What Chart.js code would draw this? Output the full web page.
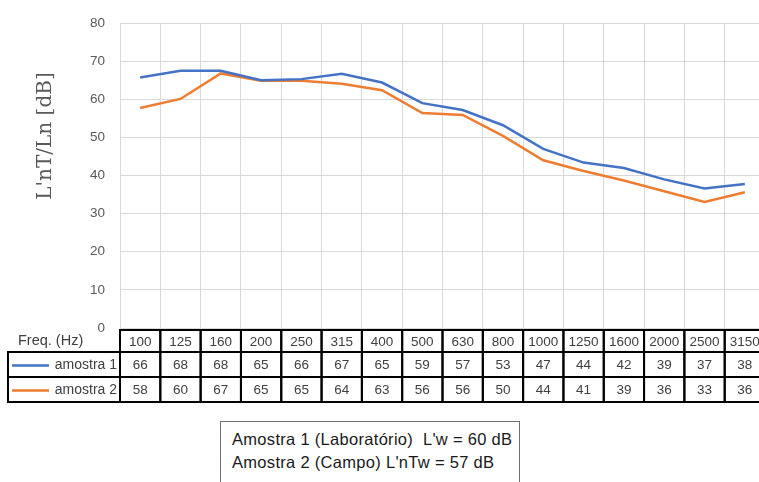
<!DOCTYPE html>
<html>
<head>
<meta charset="utf-8">
<script src="https://cdn.jsdelivr.net/npm/chart.js@4.4.1/dist/chart.umd.min.js"></script>
<style>
  html, body { margin: 0; padding: 0; background: #fff; overflow: hidden; }
  #wrap { position: relative; width: 759px; height: 482px; overflow: hidden; }
  #box { position: absolute; width: 768px; height: 482px; left: 0; top: 0; }
  #note { position: absolute; left: 220px; top: 421px; width: 300px; height: 70px;
          border: 1px solid #6e6e6e; box-sizing: border-box; padding: 6px 0 0 11px;
          font-family: "Liberation Sans", Arial, sans-serif; font-size: 16.5px; letter-spacing: 0.3px; line-height: 23px; color: #1a1a1a; background: #fff; white-space: nowrap; }
</style>
</head>
<body>
<div id="wrap">
  <div id="box"><canvas id="c" width="768" height="482"></canvas></div>
  <div id="note">Amostra 1 (Laboratório)&nbsp; L'w = 60 dB<br>Amostra 2 (Campo) L'nTw = 57 dB</div>
</div>
<script>
const categories = ["100","125","160","200","250","315","400","500","630","800","1000","1250","1600","2000","2500","3150"];
const amostra1 = [65.7, 67.5, 67.5, 65.0, 65.3, 66.7, 64.4, 59.0, 57.2, 53.2, 47.0, 43.4, 42.0, 39.0, 36.6, 37.8];
const amostra2 = [57.7, 60.1, 66.8, 64.9, 64.9, 64.1, 62.4, 56.4, 55.9, 50.4, 44.0, 41.2, 38.7, 35.9, 33.1, 35.6];
const tableRow1 = [66, 68, 68, 65, 66, 67, 65, 59, 57, 53, 47, 44, 42, 39, 37, 38];
const tableRow2 = [58, 60, 67, 65, 65, 64, 63, 56, 56, 50, 44, 41, 39, 36, 33, 36];
const seriesNames = ["amostra 1", "amostra 2"];
const yTicks = [0, 10, 20, 30, 40, 50, 60, 70, 80];
const yTitle = "L'nT/Ln [dB]";
const tableHeader = "Freq. (Hz)";

const BLUE = "#4472C4", ORANGE = "#ED7D31";

const dataTable = {
  id: "dataTable",
  afterDraw(chart) {
    const ctx = chart.ctx;
    const x = chart.scales.x;
    const area = chart.chartArea;
    const n = categories.length;
    const step = (area.right - area.left) / n;
    const top = area.bottom + 2;
    const rowH = [22, 25, 25];
    const y0 = top, y1 = y0 + rowH[0], y2 = y1 + rowH[1], y3 = y2 + rowH[2];
    const legLeft = 8;
    ctx.save();
    ctx.save();
    ctx.translate(46, 136);
    ctx.rotate(-Math.PI / 2);
    ctx.fillStyle = "#595959";
    ctx.font = "20px 'DejaVu Serif', serif";
    ctx.textAlign = "center";
    ctx.textBaseline = "middle";
    ctx.fillText(yTitle, 0, 0);
    ctx.restore();

    ctx.fillStyle = "#fff";
    ctx.fillRect(area.left, y0, area.right - area.left + 10, y3 - y0);
    ctx.strokeStyle = "#000";
    ctx.lineWidth = 2;
    for (let i = 0; i < n; i++) {
      const cx = x.getPixelForValue(i);
      ctx.strokeRect(cx - step / 2, y0, step, y1 - y0);
      ctx.strokeRect(cx - step / 2, y1, step, y2 - y1);
      ctx.strokeRect(cx - step / 2, y2, step, y3 - y2);
    }
    ctx.strokeRect(legLeft, y1, area.left - legLeft, y2 - y1);
    ctx.strokeRect(legLeft, y2, area.left - legLeft, y3 - y2);
    ctx.fillStyle = "#404040";
    ctx.font = "13.5px 'Liberation Sans', Arial, sans-serif";
    ctx.textAlign = "center";
    ctx.textBaseline = "middle";
    for (let i = 0; i < n; i++) {
      const cx = x.getPixelForValue(i);
      ctx.fillText(categories[i], cx, (y0 + y1) / 2 + 1);
      ctx.fillText(String(tableRow1[i]), cx, (y1 + y2) / 2 + 1);
      ctx.fillText(String(tableRow2[i]), cx, (y2 + y3) / 2 + 1);
    }
    ctx.font = "14.5px 'Liberation Sans', Arial, sans-serif";
    ctx.textAlign = "left";
    ctx.fillText(tableHeader, 18, (y0 + y1) / 2);
    ctx.font = "14px 'Liberation Sans', Arial, sans-serif";
    ctx.textAlign = "right";
    ctx.fillText(seriesNames[0], area.left - 3, (y1 + y2) / 2 + 1);
    ctx.fillText(seriesNames[1], area.left - 3, (y2 + y3) / 2 + 1);
    ctx.lineWidth = 2.5;
    ctx.strokeStyle = BLUE;
    ctx.beginPath(); ctx.moveTo(12, (y1 + y2) / 2 + 1); ctx.lineTo(49, (y1 + y2) / 2 + 1); ctx.stroke();
    ctx.strokeStyle = ORANGE;
    ctx.beginPath(); ctx.moveTo(12, (y2 + y3) / 2 + 1); ctx.lineTo(49, (y2 + y3) / 2 + 1); ctx.stroke();
    ctx.restore();
  }
};

new Chart(document.getElementById("c"), {
  type: "line",
  data: {
    labels: categories,
    datasets: [
      { label: seriesNames[0], data: amostra1, borderColor: BLUE, backgroundColor: BLUE, borderWidth: 2.5, pointRadius: 0, tension: 0 },
      { label: seriesNames[1], data: amostra2, borderColor: ORANGE, backgroundColor: ORANGE, borderWidth: 2.5, pointRadius: 0, tension: 0 }
    ]
  },
  options: {
    responsive: false,
    animation: false,
    events: [],
    layout: { padding: { top: 12, right: 3, bottom: 154, left: 0 } },
    plugins: { legend: { display: false }, tooltip: { enabled: false } },
    scales: {
      x: {
        offset: true,
        grid: { offset: true, color: "#d9d9d9", lineWidth: 1, drawTicks: false },
        border: { display: false },
        ticks: { display: false }
      },
      y: {
        min: 0, max: 80,
        afterBuildTicks(scale) { scale.ticks = yTicks.map(v => ({ value: v })); },
        afterFit(scale) { scale.width = 120; },
        grid: { color: "#d9d9d9", lineWidth: 1, drawTicks: false },
        border: { display: false },
        ticks: { color: "#595959", padding: 15, font: { family: "'Liberation Sans', Arial, sans-serif", size: 13.5 } }
      }
    }
  },
  plugins: [dataTable]
});
</script>
</body>
</html>
